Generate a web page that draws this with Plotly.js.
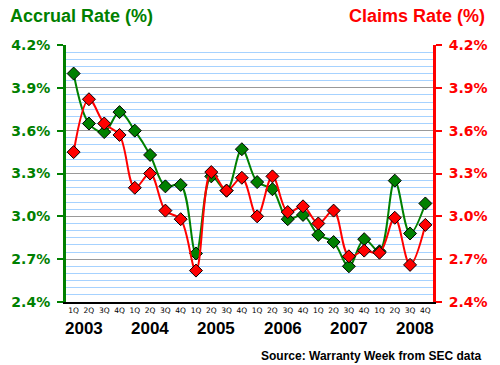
<!DOCTYPE html>
<html>
<head>
<meta charset="utf-8">
<script src="https://cdn.plot.ly/plotly-3.0.1.min.js"></script>
<style>html,body{margin:0;padding:0;background:#fff;}#chart{width:500px;height:365px;}</style>
</head>
<body>
<div id="chart"></div>
<script>
// Quarterly periods 1Q 2003 .. 4Q 2008
var periods = ["1Q03","2Q03","3Q03","4Q03","1Q04","2Q04","3Q04","4Q04",
               "1Q05","2Q05","3Q05","4Q05","1Q06","2Q06","3Q06","4Q06",
               "1Q07","2Q07","3Q07","4Q07","1Q08","2Q08","3Q08","4Q08"];
var quarterLabels = ["1Q","2Q","3Q","4Q","1Q","2Q","3Q","4Q",
                     "1Q","2Q","3Q","4Q","1Q","2Q","3Q","4Q",
                     "1Q","2Q","3Q","4Q","1Q","2Q","3Q","4Q"];
var yearLabels = ["2003","2004","2005","2006","2007","2008"];
var accrualRate = [4.00,3.65,3.59,3.73,3.60,3.43,3.21,3.22,
                   2.74,3.28,3.18,3.47,3.24,3.19,2.98,3.01,
                   2.87,2.82,2.65,2.84,2.755,3.25,2.88,3.09];
var claimsRate  = [3.45,3.82,3.65,3.57,3.20,3.30,3.04,2.98,
                   2.62,3.31,3.18,3.27,3.00,3.28,3.03,3.07,
                   2.95,3.04,2.72,2.76,2.745,2.99,2.66,2.94];
var yTicks = [2.4,2.7,3.0,3.3,3.6,3.9,4.2];

var xIdx = periods.map(function(_, i){ return i; });
var xBounds = [-0.5].concat(xIdx.map(function(i){ return i + 0.5; }));
var yTickText = yTicks.map(function(v){ return v.toFixed(1) + "%"; });

var GREEN = "#008000", RED = "#ff0000";
var yRange = [2.4, 4.2];

var traces = [
  {x: xIdx, y: claimsRate, name: "Claims Rate", type: "scatter", mode: "lines+markers",
   yaxis: "y2",
   line: {color: RED, width: 2, shape: "spline", smoothing: 1},
   marker: {symbol: "diamond", size: 10, color: RED, line: {color: "#000", width: 1}}},
  {x: xIdx, y: accrualRate, name: "Accrual Rate", type: "scatter", mode: "lines+markers",
   line: {color: GREEN, width: 2, shape: "spline", smoothing: 1},
   marker: {symbol: "diamond", size: 10, color: GREEN, line: {color: "#000", width: 1}}}
];

var tickFontL = {family: "DejaVu Sans, Arial, sans-serif", size: 14, color: GREEN, weight: "bold"};
var tickFontR = {family: "DejaVu Sans, Arial, sans-serif", size: 14, color: RED, weight: "bold"};

var annotations = [
  {text: "<b>Accrual Rate (%)</b>", xref: "paper", yref: "paper", x: -0.158, y: 1.113,
   xanchor: "left", yanchor: "middle", showarrow: false,
   font: {family: "Liberation Sans, Arial, sans-serif", size: 18, color: GREEN}},
  {text: "<b>Claims Rate (%)</b>", xref: "paper", yref: "paper", x: 1.147, y: 1.113,
   xanchor: "right", yanchor: "middle", showarrow: false,
   font: {family: "Liberation Sans, Arial, sans-serif", size: 18, color: RED}},
  {text: "<b>Source: Warranty Week from SEC data</b>", xref: "paper", yref: "paper", x: 1.136, y: -0.21,
   xanchor: "right", yanchor: "middle", showarrow: false,
   font: {family: "Liberation Sans, Arial, sans-serif", size: 12, color: "#000"}}
];
yearLabels.forEach(function(t, k){
  annotations.push({text: "<b>" + t + "</b>", xref: "paper", yref: "paper",
    x: 0.050 + 0.18 * k, y: -0.104, xanchor: "center", yanchor: "middle", showarrow: false,
    font: {family: "Liberation Sans, Arial, sans-serif", size: 17, color: "#000"}});
});

var layout = {
  width: 500, height: 365,
  margin: {l: 66, r: 67, t: 45, b: 63, pad: 0},
  paper_bgcolor: "#fff", plot_bgcolor: "#fff",
  showlegend: false,
  xaxis: {range: [-0.5, 23.5], tickmode: "array", tickvals: xIdx, ticktext: quarterLabels,
          ticks: "", tickfont: {family: "DejaVu Sans, Arial, sans-serif", size: 7.5, color: "#000"},
          ticklabelstandoff: 0,
          showgrid: false, zeroline: false, showline: true, linecolor: "#000", linewidth: 2,
          fixedrange: true},
  xaxis2: {overlaying: "x", anchor: "y", range: [-0.5, 23.5], tickmode: "array", tickvals: xBounds,
           ticks: "outside", ticklen: 4, tickwidth: 1, tickcolor: "#000", showticklabels: false,
           showgrid: false, zeroline: false, showline: false},
  xaxis3: {overlaying: "x", anchor: "y", range: [-0.5, 23.5], tickmode: "array", tickvals: xBounds,
           ticks: "inside", ticklen: 4, tickwidth: 1, tickcolor: "#000", showticklabels: false,
           showgrid: false, zeroline: false, showline: false},
  yaxis: {range: yRange, tickmode: "array", tickvals: yTicks, ticktext: yTickText,
          ticks: "outside", ticklen: 6, tickwidth: 2, tickcolor: GREEN, ticklabelstandoff: 4,
          tickfont: tickFontL,
          showgrid: true, gridcolor: "#999999", gridwidth: 1,
          minor: {tick0: 2.4, dtick: 0.05, showgrid: true, gridcolor: "#a6d2ff", gridwidth: 1, ticks: ""},
          zeroline: false, showline: true, linecolor: GREEN, linewidth: 3, fixedrange: true},
  yaxis2: {overlaying: "y", side: "right", anchor: "x", range: yRange, tickmode: "array", tickvals: yTicks,
           ticktext: yTickText, ticks: "outside", ticklen: 6, tickwidth: 2, tickcolor: RED,
           ticklabelstandoff: 4, tickfont: tickFontR,
           showgrid: false, zeroline: false, showline: true, linecolor: RED, linewidth: 3},
  yaxis3: {overlaying: "y", side: "left", anchor: "x", range: yRange, tickmode: "array", tickvals: yTicks,
           ticks: "inside", ticklen: 6, tickwidth: 2, tickcolor: GREEN, showticklabels: false,
           showgrid: false, zeroline: false, showline: false},
  yaxis4: {overlaying: "y", side: "right", anchor: "x", range: yRange, tickmode: "array", tickvals: yTicks,
           ticks: "inside", ticklen: 6, tickwidth: 2, tickcolor: RED, showticklabels: false,
           showgrid: false, zeroline: false, showline: false},
  annotations: annotations
};

Plotly.newPlot("chart", traces, layout, {displayModeBar: false, staticPlot: true});
</script>
</body>
</html>
